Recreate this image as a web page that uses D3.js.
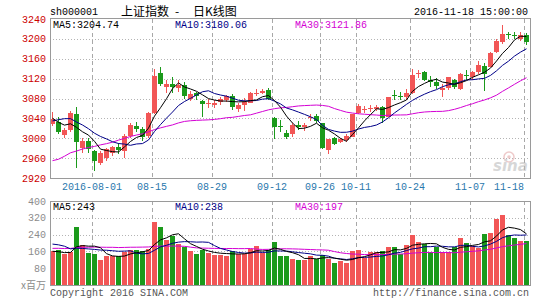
<!DOCTYPE html>
<html><head><meta charset="utf-8">
<script src="https://cdn.jsdelivr.net/npm/d3@7"></script>
<style>body{margin:0;background:#fff}svg{display:block}</style>
</head><body><svg id="c" width="545" height="300"></svg>
<script>
// ---- data ----
const dates = ["07-21","07-22","07-25","07-26","07-27","07-28","07-29",
"08-01","08-02","08-03","08-04","08-05","08-08","08-09","08-10","08-11","08-12",
"08-15","08-16","08-17","08-18","08-19","08-22","08-23","08-24","08-25","08-26",
"08-29","08-30","08-31","09-01","09-02","09-05","09-06","09-07","09-08","09-09",
"09-12","09-13","09-14","09-19","09-20","09-21","09-22","09-23",
"09-26","09-27","09-28","09-29","09-30","10-10","10-11","10-12","10-13","10-14",
"10-17","10-18","10-19","10-20","10-21","10-24","10-25","10-26","10-27","10-28",
"10-31","11-01","11-02","11-03","11-04","11-07","11-08","11-09","11-10","11-11",
"11-14","11-15","11-16","11-17","11-18"];
const open = [3028,3032,3007,3016,3049,2981,2995,2974,2950,2960,2970,2983,2975,3004,3025,3018,3004,
3050,3131,3103,3110,3101,3108,3080,3091,3075,3068,3066,3073,3077,3086,3058,3067,3071,3089,3092,3097,
3040,3025,3011,3009,3027,3022,3040,3045,3030,2977,3001,2993,2996,3003,3050,3057,3058,3058,
3062,3043,3088,3086,3083,3091,3129,3134,3117,3114,3098,3101,3117,3099,3127,3124,3133,3145,3144,3174,
3194,3209,3207,3200,3207];
const high = [3052,3042,3020,3055,3062,3000,3000,2976,2974,2980,2985,2990,3008,3030,3033,3023,3052,
3140,3143,3118,3124,3118,3113,3095,3094,3076,3078,3076,3083,3088,3089,3070,3081,3093,3100,3100,3101,
3042,3036,3016,3030,3034,3030,3049,3048,3031,2999,3003,3001,3008,3049,3068,3064,3066,3067,
3064,3084,3097,3093,3100,3140,3137,3135,3125,3122,3110,3124,3119,3131,3137,3136,3155,3152,3174,3199,
3227,3213,3214,3213,3212];
const low = [3025,3008,3000,3012,2941,2970,2970,2935,2946,2955,2965,2968,2960,3000,3012,2995,3000,
3048,3106,3092,3092,3094,3080,3075,3077,3043,3060,3060,3066,3073,3057,3052,3054,3070,3085,3089,3076,
2999,3012,2998,3003,3017,3015,3035,3030,2979,2968,2986,2990,2992,3002,3049,3050,3053,3054,
3030,3043,3077,3076,3077,3090,3122,3115,3104,3100,3083,3097,3100,3098,3118,3118,3130,3096,3144,3171,
3190,3199,3199,3195,3188];
const close = [3039.00,3012.82,3015.83,3050.17,2992.00,2994.31,2979.34,2953.39,2971.28,2978.46,2982.43,2976.70,
3004.28,3025.68,3018.75,3002.64,3050.67,3125.20,3110.04,3109.04,3104.11,3108.10,3084.81,3089.71,3085.88,
3068.32,3070.31,3070.03,3080.00,3085.49,3063.31,3067.35,3072.10,3090.71,3091.93,3095.95,3078.85,
3021.98,3023.51,3002.85,3026.05,3023.00,3025.87,3042.31,3033.90,2980.43,2998.17,2987.86,2998.48,3004.70,
3048.14,3065.25,3058.50,3061.35,3063.81,3041.17,3083.88,3084.72,3084.46,3090.94,3128.25,3131.94,3116.31,
3112.35,3104.27,3100.49,3122.44,3102.73,3128.94,3125.32,3133.33,3147.89,3128.37,3171.28,3196.04,
3210.37,3206.99,3205.06,3208.45,3192.86];
const volume = [163,165,148,155,278,192,152,148,117,138,138,140,156,168,165,162,170,
300,278,213,235,194,180,162,148,168,153,145,143,140,160,150,150,170,187,152,165,
207,138,138,122,117,117,140,126,144,125,106,112,104,160,169,130,156,156,
164,183,183,150,191,240,204,196,158,183,156,156,180,222,199,186,178,243,246,312,
333,240,223,211,210];
// the 29 sessions before the window (needed for the moving averages)
const preClose = [2927.16,2833.07,2842.19,2887.21,2872.82,2885.11,2888.81,2878.56,2905.55,2891.96,
2854.29,2895.70,2912.56,2931.59,2929.61,2932.48,2988.60,3006.39,3017.29,3016.85,2988.09,2994.92,
3049.38,3060.69,3054.02,3054.30,3043.56,3036.60,3027.90];
const preVolume = [155,185,135,165,145,140,135,125,155,140,175,135,145,160,145,150,215,235,225,220,
200,215,280,250,200,175,170,150,145];
const priceTicks = [2920,2960,3000,3040,3080,3120,3160,3200,3240];
const volumeTicks = [80,160,240,320,400];
const dateTicks = ["08-01","08-15","08-29","09-12","09-26","10-11","10-24","11-07","11-18"];
const dateTickLabels = ["2016-08-01","08-15","08-29","09-12","09-26","10-11","10-24","11-07","11-18"];

// ---- drawing ----
const svg = d3.select("#c");
const mono = "'Liberation Mono','DejaVu Sans Mono',monospace";
const cjk = "'Noto Sans CJK SC',sans-serif";
const UP = "#f25656", DOWN = "#1b9a1b";
const L = 50, R = 530, PT = 19, PB = 178, VT = 201, VB = 285;

const x = d3.scaleBand().domain(dates).range([L, R]).padding(0);
const bw = x.bandwidth() - 1;
const yP = d3.scaleLinear().domain([2920, 3240]).range([PB, PT]);
const yV = d3.scaleLinear().domain([0, 400]).range([VB, VT]);

function ma(series, pre, n) {
  const all = pre.concat(series);
  return series.map((_, i) => {
    const end = pre.length + i;
    return d3.mean(all.slice(end - n + 1, end + 1));
  });
}
const trunc = (v, d) => (Math.floor(v * Math.pow(10, d)) / Math.pow(10, d)).toFixed(d);

// grid
const grid = svg.append("g").attr("shape-rendering", "crispEdges");
priceTicks.filter(v => v > 2920 && v < 3240).forEach(v => {
  const yy = Math.round(yP(v)) + 0.5;
  grid.append("line").attr("x1", L).attr("x2", R).attr("y1", yy).attr("y2", yy)
    .attr("stroke", "#b4b4b4").attr("stroke-dasharray", "1,2");
});
volumeTicks.filter(v => v < 400).forEach(v => {
  const yy = Math.round(yV(v)) + 0.5;
  grid.append("line").attr("x1", L).attr("x2", R).attr("y1", yy).attr("y2", yy)
    .attr("stroke", "#b4b4b4").attr("stroke-dasharray", "1,2");
});
dateTicks.forEach(d => {
  const xx = Math.round(x(d)) + 0.5;
  [[PT, PB], [VT, VB]].forEach(([a, b]) => {
    grid.append("line").attr("x1", xx).attr("x2", xx).attr("y1", a).attr("y2", b)
      .attr("stroke", "#a8a8a8").attr("stroke-dasharray", "4,3");
  });
});

// candles and volume bars
const cg = svg.append("g").attr("shape-rendering", "crispEdges");
dates.forEach((d, i) => {
  const up = close[i] >= open[i];
  const col = up ? UP : DOWN;
  const cx = Math.round(x(d)) + 2.5;
  cg.append("line").attr("x1", cx).attr("x2", cx)
    .attr("y1", yP(high[i])).attr("y2", yP(low[i])).attr("stroke", col);
  const top = yP(Math.max(open[i], close[i])), bot = yP(Math.min(open[i], close[i]));
  cg.append("rect").attr("x", Math.round(x(d))).attr("width", bw)
    .attr("y", top).attr("height", Math.max(1, bot - top)).attr("fill", col);
  cg.append("rect").attr("x", Math.round(x(d))).attr("width", bw)
    .attr("y", yV(volume[i])).attr("height", VB - yV(volume[i])).attr("fill", col);
});

// moving averages
const maDefs = [[5, "#000000"], [10, "#000088"], [30, "#d400d4"]];
const lineP = d3.line().x((v, i) => x(dates[i]) + 2.5).y(v => yP(v));
const lineV = d3.line().x((v, i) => x(dates[i]) + 2.5).y(v => yV(v));
const maP = {}, maV = {};
maDefs.slice().reverse().forEach(([n, col]) => {
  maP[n] = ma(close, preClose, n);
  maV[n] = ma(volume, preVolume, n);
  svg.append("path").attr("d", lineP(maP[n])).attr("fill", "none").attr("stroke", col).attr("stroke-width", 1);
  svg.append("path").attr("d", lineV(maV[n])).attr("fill", "none").attr("stroke", col).attr("stroke-width", 1);
});

// frames
svg.append("rect").attr("x", L + 0.5).attr("y", PT - 0.5).attr("width", R - L).attr("height", PB - PT + 1)
  .attr("fill", "none").attr("stroke", "#9a9a9a").attr("shape-rendering", "crispEdges");
svg.append("rect").attr("x", L + 0.5).attr("y", VT + 0.5).attr("width", R - L).attr("height", VB - VT)
  .attr("fill", "none").attr("stroke", "#9a9a9a").attr("shape-rendering", "crispEdges");

// text helper
const tx = (x0, y0, s, opts = {}) => svg.append("text").attr("x", x0).attr("y", y0).text(s)
  .attr("font-family", opts.ff || mono).attr("font-size", opts.fs || 10)
  .attr("fill", opts.fill || "#000").attr("text-anchor", opts.anchor || "start");

// axis labels
priceTicks.forEach(v => tx(46, yP(v) + 3.5, String(v), { anchor: "end", fill: "#cc0000" }));
volumeTicks.forEach(v => tx(46, yV(v) + 3.5, String(v), { anchor: "end", fill: "#8c8c8c" }));
tx(46, 289, "x百万", { anchor: "end", fill: "#8c8c8c", ff: cjk, fs: 10 });
dateTicks.forEach((d, k) => {
  const isLast = k === dateTicks.length - 1;
  tx(isLast ? 524 : Math.round(x(d)), 190, dateTickLabels[k],
     { anchor: isLast ? "end" : "middle", fill: "#2a78ad" });
});

// titles
tx(50, 15, "sh000001");
tx(121, 15.5, "上证指数", { ff: cjk, fs: 12 });
tx(175, 15.5, "-", { ff: cjk, fs: 12 });
tx(193, 15.5, "日K线图", { ff: cjk, fs: 12 });
tx(528, 15, "2016-11-18 15:00:00", { anchor: "end" });

const maX = [53, 175, 295];
maDefs.forEach(([n, col], k) => {
  tx(maX[k], 28, "MA" + n + ":" + trunc(maP[n][maP[n].length - 1], 2), { fill: col });
  tx(maX[k], 210, "MA" + n + ":" + Math.floor(maV[n][maV[n].length - 1]), { fill: col });
});

tx(50, 296, "Copyright 2016 SINA.COM", { fill: "#555" });
tx(529, 296, "http://finance.sina.com.cn", { anchor: "end", fill: "#555" });

// sina watermark
const wm = svg.append("g").attr("opacity", 0.55);
wm.append("circle").attr("cx", 509).attr("cy", 157).attr("r", 5).attr("fill", "none").attr("stroke", "#e2a0a0").attr("stroke-width", 1.5);
wm.append("circle").attr("cx", 509).attr("cy", 157).attr("r", 1.8).attr("fill", "#e2a0a0");
wm.append("text").attr("x", 493).attr("y", 171).text("sina").attr("font-family", "'DejaVu Sans',sans-serif")
  .attr("font-size", 15).attr("font-weight", "bold").attr("font-style", "italic").attr("fill", "#b8b8b8");
</script></body></html>
